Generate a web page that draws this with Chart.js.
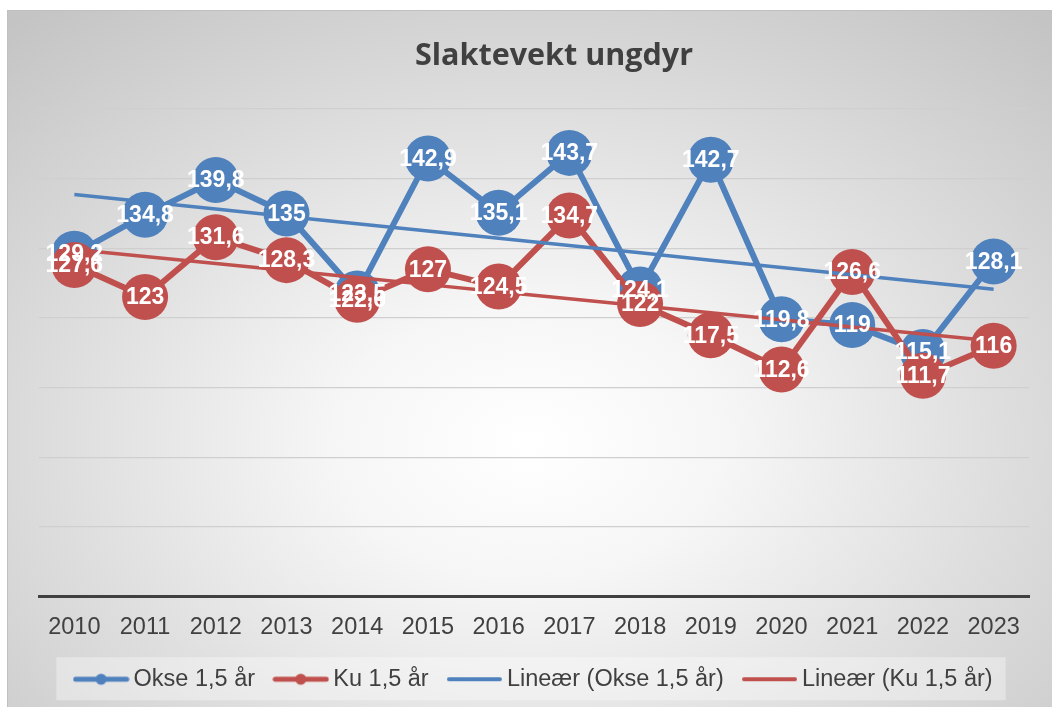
<!DOCTYPE html>
<html>
<head>
<meta charset="utf-8">
<script src="https://cdn.jsdelivr.net/npm/chart.js@4/dist/chart.umd.min.js"></script>
<style>
  html, body { margin: 0; padding: 0; background: #ffffff; }
  #box {
    position: absolute; left: 7px; top: 10px; width: 1045px; height: 697px;
    background: radial-gradient(ellipse 75% 80% at 50% 62%, #ffffff 0%, #f6f6f6 25%, #dedede 60%, #c4c4c4 100%);
    border-top: 1px solid #c0c0c0; border-left: 1px solid #c0c0c0;
    box-sizing: border-box;
  }
  #chart { display: block; }
  #title {
    position: absolute; left: 554px; top: 35px; transform: translateX(-50%);
    font: bold 30.5px "Open Sans", sans-serif; line-height: 36px; color: #404040;
    white-space: nowrap;
  }
</style>
</head>
<body>
<div id="box"><canvas id="chart" width="1044" height="696"></canvas></div>
<div id="title">Slaktevekt ungdyr</div>
<script>
    const years = ['2010', '2011', '2012', '2013', '2014', '2015', '2016', '2017', '2018', '2019', '2020', '2021', '2022', '2023'];
    const okse = [129.2, 134.8, 139.8, 135, 123.5, 142.9, 135.1, 143.7, 124.1, 142.7, 119.8, 119, 115.1, 128.1];
    const ku = [127.6, 123, 131.6, 128.3, 122.6, 127, 124.5, 134.7, 122, 117.5, 112.6, 126.6, 111.7, 116];
    const seriesNames = ['Okse 1,5 år', 'Ku 1,5 år', 'Lineær (Okse 1,5 år)', 'Lineær (Ku 1,5 år)'];
    const yMin = 80, yMax = 150, yStep = 10;

    const blue = '#4f81bd';
    const red = '#c0504d';
    const textColor = '#404040';

    // least squares trend line, as Excel's "Lineær"
    function trend(values) {
        const n = values.length;
        const mx = (n - 1) / 2;
        const my = values.reduce((s, v) => s + v, 0) / n;
        let num = 0, den = 0;
        values.forEach((v, i) => { num += (i - mx) * (v - my); den += (i - mx) * (i - mx); });
        const slope = num / den;
        return values.map((v, i) => my + slope * (i - mx));
    }

    function legendSample(color, width, dot) {
        const c = document.createElement('canvas');
        c.width = 57; c.height = 14;
        const g = c.getContext('2d');
        g.strokeStyle = color;
        g.lineWidth = width;
        g.lineCap = 'round';
        g.beginPath(); g.moveTo(3, 7); g.lineTo(54, 7); g.stroke();
        if (dot) {
            g.fillStyle = color;
            g.beginPath(); g.arc(28.5, 7, 5.5, 0, Math.PI * 2); g.fill();
        }
        return c;
    }
    const samples = [legendSample(blue, 5, true), legendSample(red, 5, true), legendSample(blue, 4, false), legendSample(red, 4, false)];

    const pointLabels = {
        id: 'pointLabels',
        afterDatasetsDraw(chart) {
            const ctx = chart.ctx;
            ctx.save();
            ctx.font = 'bold 23px "Liberation Sans", Arial, sans-serif';
            ctx.fillStyle = '#ffffff';
            ctx.textAlign = 'center';
            ctx.textBaseline = 'middle';
            [0, 1].forEach(di => {
                const meta = chart.getDatasetMeta(di);
                meta.data.forEach((pt, i) => {
                    const v = chart.data.datasets[di].data[i];
                    ctx.fillText(String(v).replace('.', ','), pt.x, pt.y + 1);
                });
            });
            ctx.restore();
        }
    };

    const legendBox = {
        id: 'legendBox',
        beforeDraw(chart) {
            const boxes = chart.legend.legendHitBoxes;
            if (!boxes || !boxes.length) return;
            const left = Math.min(...boxes.map(b => b.left)) - 24;
            const right = Math.max(...boxes.map(b => b.left + b.width)) + 13;
            const top = boxes[0].top + boxes[0].height / 2 - 22;
            const ctx = chart.ctx;
            ctx.save();
            ctx.fillStyle = 'rgba(255,255,255,0.35)';
            ctx.fillRect(left, top, right - left, 43);
            ctx.restore();
        }
    };

    new Chart(document.getElementById('chart'), {
        type: 'line',
        data: {
            labels: years,
            datasets: [
                {
                    label: seriesNames[0], data: okse, order: 4,
                    borderColor: blue, backgroundColor: blue, borderWidth: 6,
                    pointRadius: 23, pointHoverRadius: 23, pointBorderWidth: 0,
                    pointBackgroundColor: blue, tension: 0, clip: false
                },
                {
                    label: seriesNames[1], data: ku, order: 3,
                    borderColor: red, backgroundColor: red, borderWidth: 6,
                    pointRadius: 23, pointHoverRadius: 23, pointBorderWidth: 0,
                    pointBackgroundColor: red, tension: 0, clip: false
                },
                {
                    label: seriesNames[2], data: trend(okse), order: 2,
                    borderColor: blue, backgroundColor: blue, borderWidth: 3.5,
                    pointRadius: 0, tension: 0
                },
                {
                    label: seriesNames[3], data: trend(ku), order: 1,
                    borderColor: red, backgroundColor: red, borderWidth: 3.5,
                    pointRadius: 0, tension: 0
                }
            ]
        },
        options: {
            responsive: false,
            animation: false,
            layout: { padding: { top: 98, left: 31, right: 18, bottom: 6 } },
            scales: {
                x: {
                    offset: true,
                    grid: { display: false, drawTicks: false },
                    border: { display: true, color: textColor, width: 3 },
                    ticks: {
                        color: textColor, padding: 17,
                        font: { family: '"Liberation Sans", Arial, sans-serif', size: 23.5 }
                    },
                    afterFit(scale) { scale.height = 46; }
                },
                y: {
                    min: yMin, max: yMax,
                    grid: {
                        color: ctx => ctx.tick.value === yMin ? 'rgba(0,0,0,0)' : '#cfcfcf',
                        lineWidth: 1.3, drawTicks: false
                    },
                    border: { display: false },
                    ticks: { display: false, stepSize: yStep }
                }
            },
            plugins: {
                title: { display: false },
                legend: {
                    position: 'bottom',
                    labels: {
                        usePointStyle: true,
                        pointStyleWidth: 41.5,
                        color: textColor,
                        padding: 25,
                        font: { family: '"Liberation Sans", Arial, sans-serif', size: 23.5 },
                        sort: (a, b) => a.datasetIndex - b.datasetIndex,
                        generateLabels(chart) {
                            const items = Chart.defaults.plugins.legend.labels.generateLabels(chart);
                            items.forEach(it => { it.pointStyle = samples[it.datasetIndex]; });
                            return items;
                        }
                    }
                },
                tooltip: { enabled: false }
            }
        },
        plugins: [pointLabels, legendBox]
    });
</script>
</body>
</html>
